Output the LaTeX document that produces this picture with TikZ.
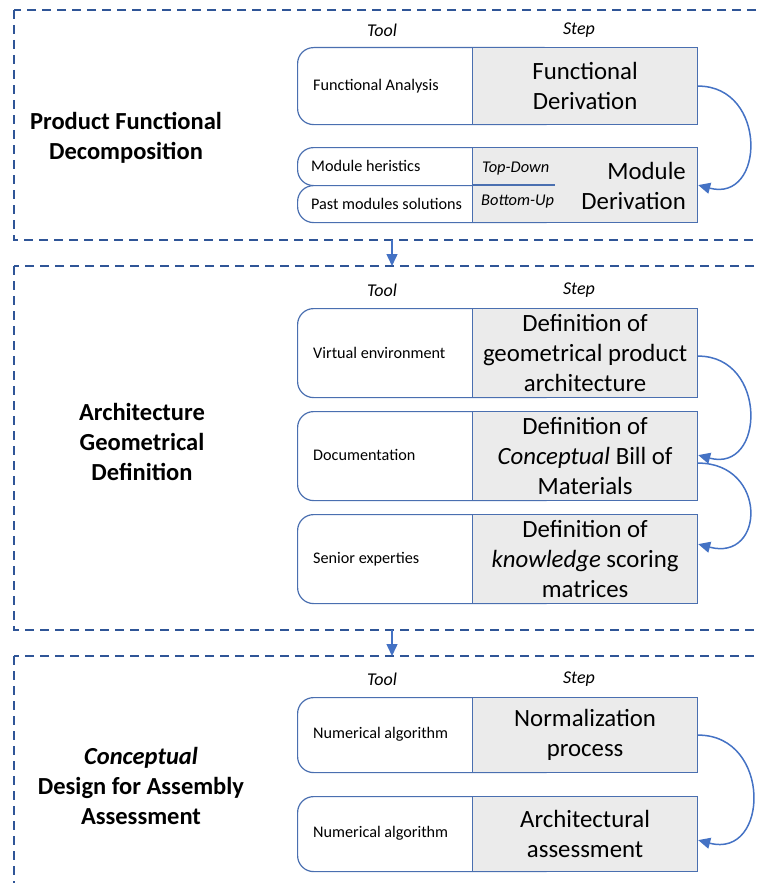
\documentclass[tikz,border=0pt]{standalone}
\usepackage{fontspec}
\setmainfont{Carlito}
\usetikzlibrary{arrows.meta}

\definecolor{frameblue}{HTML}{2F5597}
\definecolor{boxblue}{HTML}{4A6FB0}
\definecolor{arrowblue}{HTML}{4472C4}
\definecolor{stepgrey}{HTML}{EBEBEB}

\begin{document}
\begin{tikzpicture}[x=1pt,y=-1pt,
  section/.style={draw=frameblue, line width=1.8pt, dash pattern=on 9pt off 6pt},
  toolbox/.style={draw=boxblue, line width=1.2pt, rounded corners=16pt, fill=white,
    rectangle, minimum width=263pt, anchor=north west, inner sep=0pt},
  stepbox/.style={draw=boxblue, line width=1.2pt, fill=stepgrey, rectangle,
    minimum width=225pt, anchor=north west, align=center, inner sep=0pt,
    font=\fontsize{24.8}{30}\selectfont},
  tooltext/.style={anchor=west, inner sep=0pt, font=\fontsize{16.2}{19}\selectfont},
  head/.style={inner sep=0pt, font=\fontsize{18}{22}\selectfont\itshape},
  phase/.style={inner sep=0pt, align=center, font=\fontsize{24.5}{30}\selectfont\bfseries},
  dirtext/.style={anchor=west, inner sep=0pt, font=\fontsize{16.4}{19}\selectfont\itshape},
  flow/.style={draw=arrowblue, line width=1.5pt, -{Triangle[length=12pt,width=11pt]}},
  stepflow/.style={flow, out=0, in=-15, looseness=1.8}
]
\useasboundingbox (0,0) rectangle (758,883);
\clip (0,0) rectangle (758,883);

% ---------- phase frames ----------
\draw[section] (14,10) rectangle (800,240);
\draw[section] (14,266) rectangle (800,630);
\draw[section] (14,656) rectangle (800,900);

\coordinate (f1) at (392,240);
\coordinate (f2) at (392,266);
\coordinate (f3) at (392,630);
\coordinate (f4) at (392,656);
\draw[flow] (f1) -- (f2);
\draw[flow] (f3) -- (f4);

% ---------- phase 1 ----------
\node[phase] (p1) at (126,138) {Product Functional\\Decomposition};
\node[head] (tool1) at (382,30) {Tool};
\node[head] (step1) at (579,30) {Step};

\node[toolbox, minimum height=77pt] (t1) at (297,47) {};
\node[tooltext] (tt1) at (313,86) {Functional Analysis};
\node[stepbox, minimum height=77pt] (s1) at (472,47) {Functional\\Derivation};

\node[toolbox, minimum height=38pt] (t2a) at (297,147) {};
\node[toolbox, minimum height=37pt] (t2b) at (297,185) {};
\node[tooltext] (tt2a) at (311,166) {Module heristics};
\node[tooltext] (tt2b) at (311,204) {Past modules solutions};
\node[stepbox, minimum height=75pt] (s2) at (472,147) {};
\draw[draw=boxblue, line width=1.2pt] (s2.west |- t2b.north) -- ++(83,0) coordinate (sep);
\node[dirtext] (td) at (482,169) {Top-Down};
\node[dirtext] (bu) at (481,202) {Bottom-Up};
\node[anchor=east, align=right, inner sep=0pt, font=\fontsize{24.8}{30}\selectfont]
  (s2t) at (686,186) {Module\\Derivation};

\draw[stepflow] (s1.east) to (s2.east);

% ---------- phase 2 ----------
\node[phase] (p2) at (142,442) {Architecture\\Geometrical\\Definition};
\node[head] (tool2) at (382,290) {Tool};
\node[head] (step2) at (579,290) {Step};

\node[toolbox, minimum height=89pt] (t3) at (297,308) {};
\node[tooltext] (tt3) at (313,353) {Virtual environment};
\node[stepbox, minimum height=89pt] (s3) at (472,308)
  {Definition of\\geometrical product\\architecture};

\node[toolbox, minimum height=89pt] (t4) at (297,411) {};
\node[tooltext] (tt4) at (313,455) {Documentation};
\node[stepbox, minimum height=89pt] (s4) at (472,411)
  {Definition of\\\textit{Conceptual} Bill of\\Materials};

\node[toolbox, minimum height=89pt] (t5) at (297,514) {};
\node[tooltext] (tt5) at (313,559) {Senior experties};
\node[stepbox, minimum height=89pt] (s5) at (472,514)
  {Definition of\\\textit{knowledge} scoring\\matrices};

\draw[stepflow] ([yshift=-3pt]s3.east) to ([yshift=1pt]s4.east);
\draw[stepflow, looseness=2.2] ([yshift=-7pt]s4.east) to ([yshift=15pt]s5.east);

% ---------- phase 3 ----------
\node[phase] (p3) at (141,786) {\textit{Conceptual}\\Design for Assembly\\Assessment};
\node[head] (tool3) at (382,679) {Tool};
\node[head] (step3) at (579,679) {Step};

\node[toolbox, minimum height=75pt] (t6) at (297,697) {};
\node[tooltext] (tt6) at (313,734) {Numerical algorithm};
\node[stepbox, minimum height=75pt] (s6) at (472,697) {Normalization\\process};

\node[toolbox, minimum height=75pt] (t7) at (297,796) {};
\node[tooltext] (tt7) at (313,833) {Numerical algorithm};
\node[stepbox, minimum height=75pt] (s7) at (472,796) {Architectural\\assessment};

\draw[stepflow] (s6.east) to ([yshift=-6pt]s7.east);
\end{tikzpicture}
\end{document}
